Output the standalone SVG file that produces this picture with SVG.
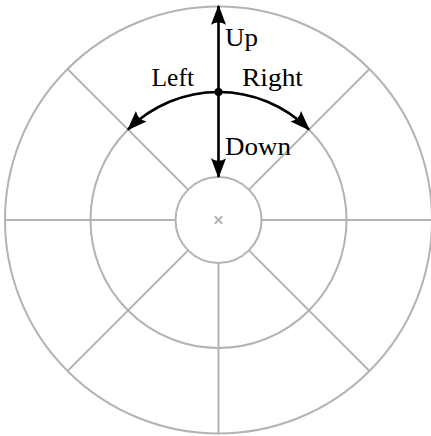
<svg xmlns="http://www.w3.org/2000/svg" width="431" height="436" viewBox="0 0 431 436">
<style>
.grid{fill:none;stroke:#b3b3b3;stroke-width:2}
.arr{fill:none;stroke:#000;stroke-width:2.6}
.lbl{font-family:"Liberation Serif","Times New Roman",serif;font-size:25px;fill:#000}
</style>
<defs>
<marker id="ah" markerUnits="userSpaceOnUse" markerWidth="30" markerHeight="30" refX="0" refY="0" viewBox="-20 -10 24 20" orient="auto" overflow="visible">
<path d="M1,0 L-15,-6 Q-11,0 -15,6 Z" fill="#000"/>
</marker>
</defs>
<rect width="431" height="436" fill="#fff"/>
<g id="grid">
<circle class="grid" cx="218.5" cy="220" r="213.5"/>
<circle class="grid" cx="218.5" cy="220" r="128"/>
<circle class="grid" cx="218.5" cy="220" r="43"/>
<path class="grid" d="M261.5,220H432M175.5,220H5M218.5,263V433.5M218.5,177V6.5M248.9,189.6L369.5,69M188.1,189.6L67.5,69M248.9,250.4L369.5,371M188.1,250.4L67.5,371"/>
<path class="grid" stroke-width="1.3" d="M214.8,216.3L222.2,223.7M222.2,216.3L214.8,223.7"/>
</g>
<g id="connectors">
<path class="arr" d="M218.5,92V6" marker-end="url(#ah)"/>
<path class="arr" d="M218.5,92V177" marker-end="url(#ah)"/>
<path class="arr" d="M218.5,92A128,128 0 0 0 128,129.5" marker-end="url(#ah)"/>
<path class="arr" d="M218.5,92A128,128 0 0 1 309,129.5" marker-end="url(#ah)"/>
<circle cx="218.5" cy="92" r="4" fill="#000"/>
</g>
<g id="labels">
<text class="lbl" x="225" y="45.5" textLength="33" lengthAdjust="spacingAndGlyphs">Up</text>
<text class="lbl" x="151.5" y="86" textLength="42.5" lengthAdjust="spacingAndGlyphs">Left</text>
<text class="lbl" x="242" y="86" textLength="61" lengthAdjust="spacingAndGlyphs">Right</text>
<text class="lbl" x="225" y="154.5" textLength="66" lengthAdjust="spacingAndGlyphs">Down</text>
</g>
</svg>
